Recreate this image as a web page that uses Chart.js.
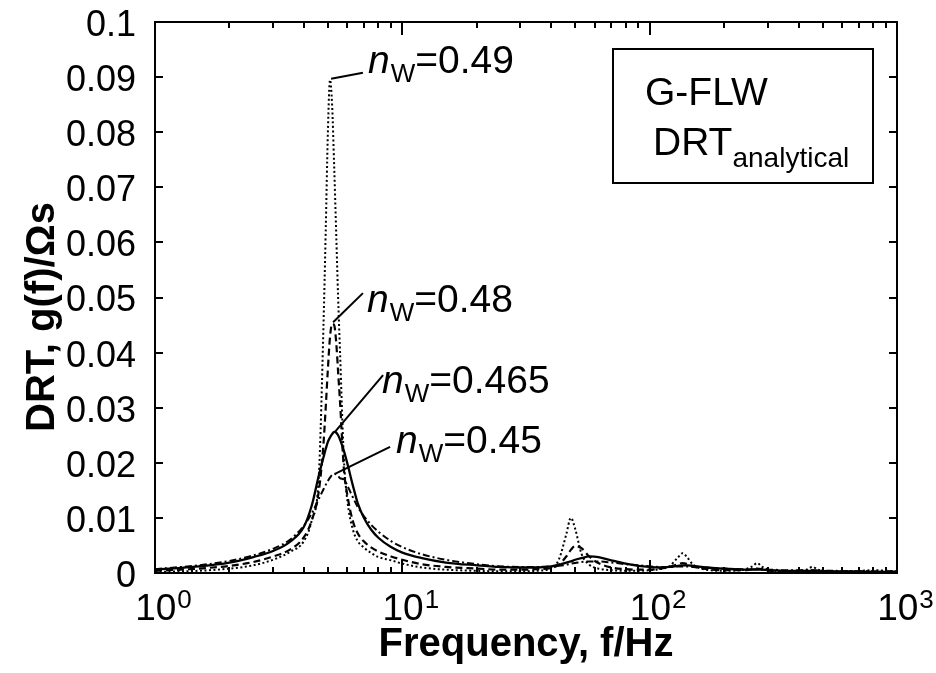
<!DOCTYPE html>
<html>
<head>
<meta charset="utf-8">
<script src="https://cdn.jsdelivr.net/npm/chart.js@4.4.1/dist/chart.umd.min.js"></script>
<style>
  body { margin: 0; background: #fff; }
</style>
</head>
<body>
<canvas id="drtChart" width="936" height="673"></canvas>
<script>
// Frequencies (Hz) and DRT values g(f) in Ohm*s
const freq = [1, 1.5, 2, 2.5, 3, 3.5, 4, 4.3, 4.6, 4.8, 4.9, 5.0, 5.1, 5.2, 5.3, 5.4, 5.5, 5.6, 5.8, 6.0,
  6.3, 6.6, 7, 7.5, 8, 9, 10, 12, 15, 20, 25, 30, 35, 40, 43, 46, 48, 50, 53, 57,
  62, 70, 80, 90, 100, 110, 120, 130, 136, 142, 150, 170, 200, 240, 260, 272, 285, 310, 350, 400,
  430, 455, 480, 550, 650, 800, 1000];

const drt049 = [0.0002, 0.0004, 0.0008, 0.0014, 0.0024, 0.0038, 0.0058, 0.0095, 0.0180, 0.0450, 0.0620, 0.0800, 0.0895, 0.0850, 0.0740, 0.0620, 0.0500, 0.0400, 0.0210, 0.0130,
  0.0080, 0.0058, 0.0046, 0.0036, 0.0029, 0.0023, 0.0017, 0.0010, 0.0006, 0.0004, 0.0003, 0.0003, 0.0004, 0.0008, 0.0025, 0.0070, 0.0100, 0.0080, 0.0035, 0.0015,
  0.0008, 0.0005, 0.0004, 0.0004, 0.0005, 0.0007, 0.0012, 0.0028, 0.0036, 0.0028, 0.0015, 0.0006, 0.0004, 0.0006, 0.0012, 0.0018, 0.0011, 0.0005, 0.0003, 0.0004,
  0.0006, 0.0011, 0.0006, 0.0003, 0.0003, 0.0005, 0.0003];

const drt048 = [0.0004, 0.0008, 0.0013, 0.0020, 0.0030, 0.0042, 0.0065, 0.0095, 0.0150, 0.0235, 0.0300, 0.0370, 0.0428, 0.0452, 0.0450, 0.0420, 0.0365, 0.0310, 0.0190, 0.0140,
  0.0095, 0.0072, 0.0057, 0.0046, 0.0039, 0.0030, 0.0024, 0.0016, 0.0011, 0.0008, 0.0006, 0.0006, 0.0007, 0.0009, 0.0015, 0.0030, 0.0042, 0.0049, 0.0045, 0.0030,
  0.0018, 0.0010, 0.0007, 0.0006, 0.0006, 0.0008, 0.0011, 0.0016, 0.0018, 0.0016, 0.0012, 0.0007, 0.0005, 0.0005, 0.0007, 0.0008, 0.0007, 0.0004, 0.0003, 0.0003,
  0.0004, 0.0005, 0.0004, 0.0002, 0.0002, 0.0002, 0.0002];

const drt0465 = [0.0006, 0.0012, 0.0019, 0.0029, 0.0040, 0.0056, 0.0084, 0.0122, 0.0178, 0.0210, 0.0225, 0.0238, 0.0246, 0.0252, 0.0256, 0.0255, 0.0250, 0.0242, 0.0222, 0.0198,
  0.0160, 0.0127, 0.0100, 0.0078, 0.0064, 0.0047, 0.0037, 0.0027, 0.0019, 0.0014, 0.0011, 0.0010, 0.0010, 0.0012, 0.0015, 0.0019, 0.0021, 0.0024, 0.0027, 0.0030,
  0.0029, 0.0023, 0.0017, 0.0013, 0.0011, 0.0010, 0.0011, 0.0013, 0.0014, 0.0014, 0.0013, 0.0010, 0.0008, 0.0006, 0.0006, 0.0006, 0.0006, 0.0005, 0.0004, 0.0004,
  0.0004, 0.0004, 0.0004, 0.0003, 0.0003, 0.0002, 0.0002];

const drt045 = [0.0007, 0.0014, 0.0022, 0.0032, 0.0044, 0.0060, 0.0086, 0.0108, 0.0135, 0.0152, 0.0160, 0.0167, 0.0173, 0.0178, 0.0180, 0.0179, 0.0176, 0.0172, 0.0170, 0.0158,
  0.0138, 0.0120, 0.0103, 0.0087, 0.0075, 0.0058, 0.0047, 0.0034, 0.0024, 0.0016, 0.0012, 0.0011, 0.0011, 0.0012, 0.0013, 0.0015, 0.0017, 0.0018, 0.0020, 0.0021,
  0.0021, 0.0019, 0.0016, 0.0014, 0.0012, 0.0011, 0.0011, 0.0012, 0.0012, 0.0012, 0.0011, 0.0010, 0.0008, 0.0007, 0.0007, 0.0007, 0.0006, 0.0006, 0.0005, 0.0005,
  0.0005, 0.0005, 0.0004, 0.0004, 0.0003, 0.0003, 0.0003];

// n_W annotations: label text, peak the leader starts from, leader end, text start (data units)
const nwLabels = ['0.49', '0.48', '0.465', '0.45'];
const peakFreq = [5.15, 5.25, 5.34, 5.34];
const peakVal = [0.0897, 0.0455, 0.0256, 0.018];
const leaderFreq = [6.93, 6.93, 8.36, 8.92];
const leaderVal = [0.0908, 0.0508, 0.0359, 0.0229];
const labelFreq = [7.26, 7.2, 8.28, 9.43];
const labelVal = [0.0907, 0.0474, 0.0327, 0.0218];

// axis ticks
const yTicks = [0, 0.01, 0.02, 0.03, 0.04, 0.05, 0.06, 0.07, 0.08, 0.09, 0.1];
const xDecades = [1, 10, 100, 1000];
const xExponents = ['0', '1', '2', '3'];

const FONT = '"Liberation Sans", Arial, sans-serif';
Chart.defaults.font.family = FONT;
Chart.defaults.color = '#000';

function series(vals) {
  return vals.map((v, i) => ({ x: freq[i], y: v }));
}

// frame, inward ticks, x labels, y title, annotations and legend box
const decorations = {
  id: 'decorations',
  afterDatasetsDraw(chart) {
    const { ctx, chartArea: a, scales: { x, y } } = chart;
    ctx.save();
    ctx.strokeStyle = '#000';
    ctx.fillStyle = '#000';
    ctx.lineWidth = 2;
    ctx.strokeRect(a.left, a.top, a.right - a.left, a.bottom - a.top);

    ctx.beginPath();
    yTicks.forEach(v => {
      const py = Math.round(y.getPixelForValue(v));
      ctx.moveTo(a.left, py); ctx.lineTo(a.left + 8, py);
      ctx.moveTo(a.right, py); ctx.lineTo(a.right - 8, py);
    });
    xDecades.forEach((d, i) => {
      const px = Math.round(x.getPixelForValue(d));
      ctx.moveTo(px, a.bottom); ctx.lineTo(px, a.bottom - 13);
      ctx.moveTo(px, a.top); ctx.lineTo(px, a.top + 13);
      if (i < xDecades.length - 1) {
        for (let k = 2; k <= 9; k++) {
          const pm = Math.round(x.getPixelForValue(d * k));
          ctx.moveTo(pm, a.bottom); ctx.lineTo(pm, a.bottom - 6);
          ctx.moveTo(pm, a.top); ctx.lineTo(pm, a.top + 6);
        }
      }
    });
    ctx.stroke();

    // x tick labels 10^n
    ctx.textBaseline = 'alphabetic';
    ctx.textAlign = 'left';
    xDecades.forEach((d, i) => {
      const px = x.getPixelForValue(d);
      ctx.font = '37px ' + FONT;
      const w1 = ctx.measureText('10').width;
      ctx.font = '26px ' + FONT;
      const w2 = ctx.measureText(xExponents[i]).width;
      const start = px + 8 - (w1 + w2) / 2;
      ctx.font = '37px ' + FONT;
      ctx.fillText('10', start, a.bottom + 47);
      ctx.font = '26px ' + FONT;
      ctx.fillText(xExponents[i], start + w1 + 1, a.bottom + 35);
    });

    // y axis title
    ctx.save();
    ctx.translate(43, 317);
    ctx.rotate(-Math.PI / 2);
    ctx.font = 'bold 40px ' + FONT;
    ctx.textAlign = 'center';
    ctx.textBaseline = 'middle';
    ctx.fillText('DRT, g(f)/\u03A9s', 0, 0);
    ctx.restore();

    // n_W annotations
    ctx.lineWidth = 2;
    nwLabels.forEach((lab, i) => {
      ctx.beginPath();
      ctx.moveTo(x.getPixelForValue(peakFreq[i]), y.getPixelForValue(peakVal[i]));
      ctx.lineTo(x.getPixelForValue(leaderFreq[i]), y.getPixelForValue(leaderVal[i]));
      ctx.stroke();
      let tx = x.getPixelForValue(labelFreq[i]);
      const ty = y.getPixelForValue(labelVal[i]);
      ctx.font = 'italic 39px ' + FONT;
      ctx.fillText('n', tx, ty);
      tx += ctx.measureText('n').width + 1;
      ctx.font = '26px ' + FONT;
      ctx.fillText('W', tx, ty + 9);
      tx += ctx.measureText('W').width;
      ctx.font = '39px ' + FONT;
      ctx.fillText('=' + lab, tx, ty);
    });

    // legend box
    const bx = a.right - 284, by = a.top + 27;
    ctx.strokeRect(bx, by, 260, 134);
    ctx.font = '39px ' + FONT;
    ctx.fillText('G-FLW', bx + 32, by + 56);
    ctx.fillText('DRT', bx + 40, by + 106);
    const wd = ctx.measureText('DRT').width;
    ctx.font = '28px ' + FONT;
    ctx.fillText('analytical', bx + 40 + wd, by + 118);
    ctx.restore();
  }
};

const ctx = document.getElementById('drtChart').getContext('2d');
new Chart(ctx, {
  type: 'line',
  data: {
    datasets: [
      { label: 'nW=0.49', data: series(drt049), borderColor: '#000', borderWidth: 2, borderDash: [2, 2.5] },
      { label: 'nW=0.48', data: series(drt048), borderColor: '#000', borderWidth: 2.2, borderDash: [7, 4] },
      { label: 'nW=0.465', data: series(drt0465), borderColor: '#000', borderWidth: 2.3 },
      { label: 'nW=0.45', data: series(drt045), borderColor: '#000', borderWidth: 2, borderDash: [7, 3, 2, 3] }
    ]
  },
  options: {
    responsive: false,
    animation: false,
    elements: {
      point: { radius: 0 },
      line: { cubicInterpolationMode: 'monotone', fill: false }
    },
    layout: { padding: { top: 22, right: 39, left: 0, bottom: 0 } },
    plugins: {
      legend: { display: false },
      tooltip: { enabled: false }
    },
    scales: {
      x: {
        type: 'logarithmic',
        min: 1,
        max: 1000,
        grid: { display: false },
        border: { display: false },
        ticks: { display: false },
        title: {
          display: true,
          text: 'Frequency, f/Hz',
          font: { size: 40, weight: 'bold', lineHeight: 1 },
          padding: { top: 0, bottom: 8 }
        },
        afterFit: s => { s.height = 100; s.paddingLeft = 0; s.paddingRight = 0; }
      },
      y: {
        min: 0,
        max: 0.1,
        grid: { display: false, drawTicks: false },
        border: { display: false },
        afterBuildTicks: s => { s.ticks = yTicks.map(v => ({ value: v })); },
        ticks: {
          font: { size: 36 },
          padding: 19,
          labelOffset: 4,
          callback: v => String(+v.toFixed(2))
        },
        afterFit: s => { s.width = 155; s.paddingTop = 0; s.paddingBottom = 0; }
      }
    }
  },
  plugins: [decorations]
});
</script>
</body>
</html>
